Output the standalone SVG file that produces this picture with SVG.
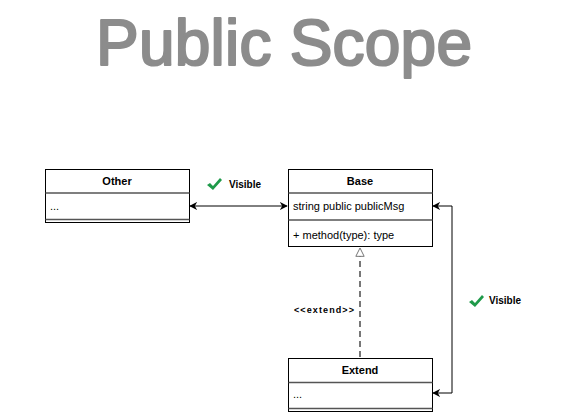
<svg xmlns="http://www.w3.org/2000/svg" width="574" height="413" viewBox="0 0 574 413">
<style>
.box{fill:#fff;stroke:#000;stroke-width:1}
.sep{stroke:#555;stroke-width:1.5}
.t{font-family:"Liberation Sans",sans-serif;font-size:11px;fill:#000}
.b{font-weight:bold;text-anchor:middle}
.lbl{font-family:"Liberation Sans",sans-serif;font-size:10px;font-weight:bold;fill:#000}
.edge{fill:none;stroke:#000;stroke-width:1}
.chk{fill:#1f9a4a}
</style>
<defs>
<marker id="arr" viewBox="0 0 10 10" refX="9" refY="5" markerWidth="8" markerHeight="8" orient="auto-start-reverse" markerUnits="userSpaceOnUse">
<path d="M0,0 L10,5 L0,10 L3,5 Z" fill="#000"/>
</marker>
<marker id="tri" viewBox="0 0 12 12" refX="11" refY="6" markerWidth="10" markerHeight="10" orient="auto" markerUnits="userSpaceOnUse">
<path d="M1,1 L11,6 L1,11 Z" fill="#fff" stroke="#777" stroke-width="1.2"/>
</marker>
<path id="check" d="M0,5 L3,3 L6,6 L13,-2 L15,0 L6,10 Z"/>
</defs>
<text x="96" y="65" font-family="Liberation Sans,sans-serif" font-size="64" fill="#8c8c8c" stroke="#8c8c8c" stroke-width="2.2" stroke-linejoin="round" textLength="376" lengthAdjust="spacing">Public Scope</text>

<g id="connectors">
<path class="edge" d="M190,206 H287" marker-start="url(#arr)" marker-end="url(#arr)"/>
<path class="edge" d="M433,206 H452 V393 H433" marker-start="url(#arr)" marker-end="url(#arr)"/>
<path d="M360,357 V248" fill="none" stroke="#777" stroke-width="2" stroke-dasharray="6,4" marker-end="url(#tri)"/>
<text class="lbl" x="294" y="313" style="font-size:9px" textLength="60" lengthAdjust="spacing">&lt;&lt;extend&gt;&gt;</text>
<g><use href="#check" class="chk" x="207" y="180"/><text class="lbl" x="229" y="188">Visible</text></g>
<g><use href="#check" class="chk" x="469" y="297"/><text class="lbl" x="489" y="304">Visible</text></g>
</g>

<g id="other">
<rect class="box" x="45.5" y="169.5" width="144" height="53"/>
<line class="sep" x1="45.5" y1="193" x2="189.5" y2="193"/>
<line class="sep" x1="45.5" y1="219.5" x2="189.5" y2="219.5"/>
<text class="t b" x="117" y="185">Other</text>
<text class="t" x="50" y="210">...</text>
</g>

<g id="base">
<rect class="box" x="288.5" y="169.5" width="144" height="77"/>
<line class="sep" x1="288.5" y1="193" x2="432.5" y2="193"/>
<line class="sep" x1="288.5" y1="220" x2="432.5" y2="220"/>
<text class="t b" x="360" y="185">Base</text>
<text class="t" x="293" y="210">string public publicMsg</text>
<text class="t" x="293" y="239">+ method(type): type</text>
</g>

<g id="extend">
<rect class="box" x="288.5" y="358.5" width="144" height="53"/>
<line class="sep" x1="288.5" y1="382.5" x2="432.5" y2="382.5"/>
<line class="sep" x1="288.5" y1="408.5" x2="432.5" y2="408.5"/>
<text class="t b" x="360" y="374">Extend</text>
<text class="t" x="293" y="398">...</text>
</g>
</svg>
